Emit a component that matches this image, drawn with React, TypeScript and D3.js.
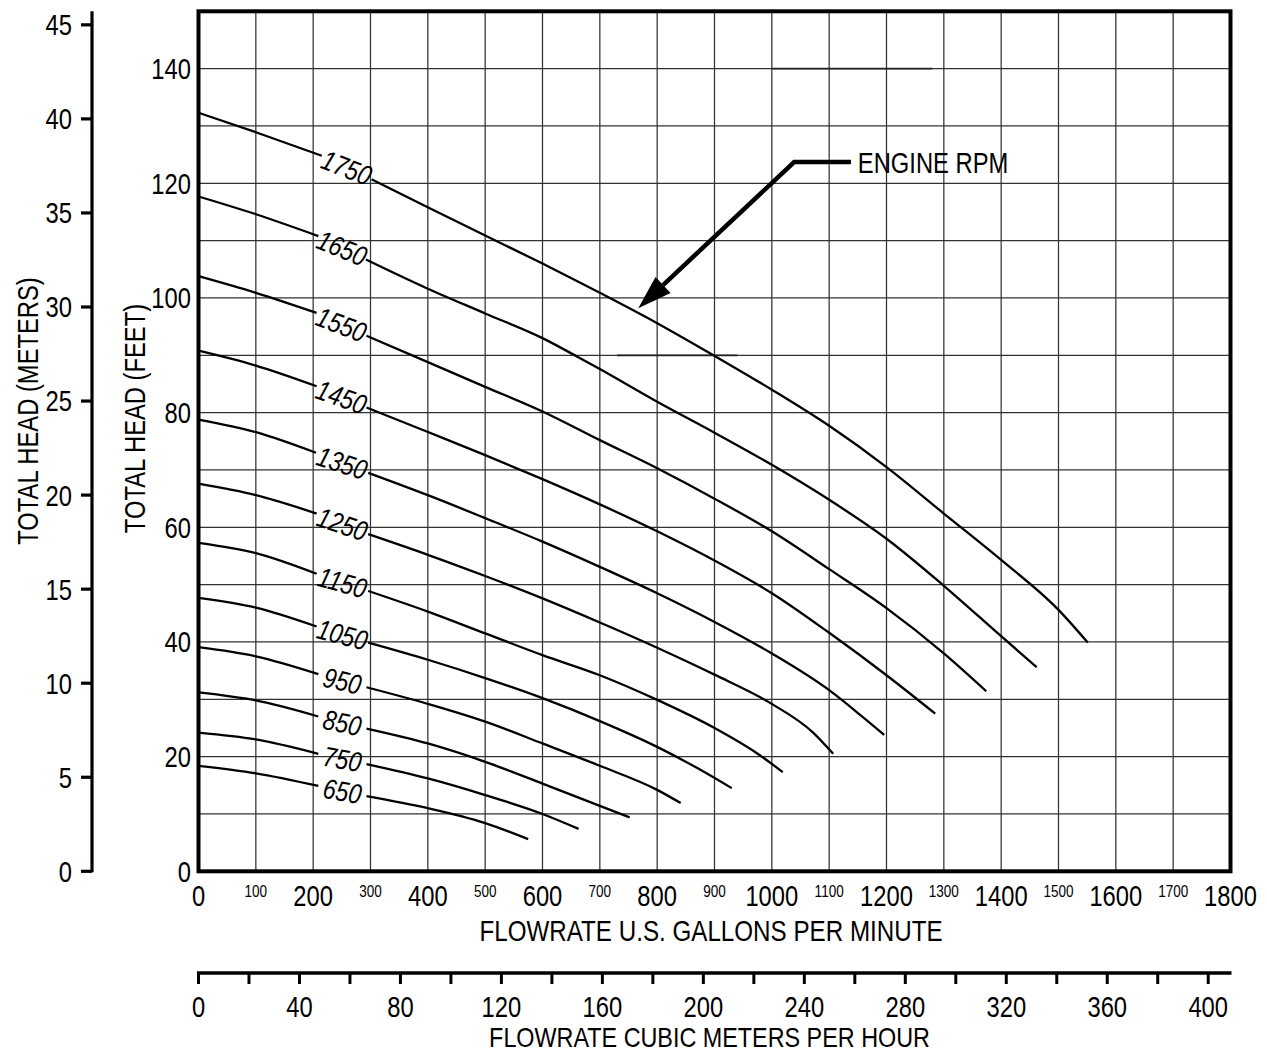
import React from "react";
import * as d3 from "d3";

// ---- data (flow in US GPM, head in feet) ----
const rpmLabels = ["1750", "1650", "1550", "1450", "1350", "1250", "1150", "1050", "950", "850", "750", "650"];

const rpm1750: [number, number][] = [[0,132.3],[100,128.9],[215,124.8],[302,120.7],[398,115.9],[500,110.9],[600,106],[700,100.9],[800,95.6],[900,89.9],[1000,84],[1100,77.7],[1200,70.5],[1300,62.4],[1400,54.3],[1500,45.6],[1551,39.9]];
const rpm1650: [number, number][] = [[0,117.7],[100,114.6],[209,110.8],[292,106.7],[398,101.7],[500,97.3],[600,93],[660,89.8],[700,87.6],[800,81.9],[900,76.5],[1000,70.9],[1100,64.8],[1200,58],[1300,49.8],[1400,41],[1462,35.6]];
const rpm1550: [number, number][] = [[0,103.8],[100,100.9],[206,97.4],[293,93.4],[398,88.9],[500,84.5],[600,80.2],[700,75.2],[800,70.3],[900,65],[1000,59.3],[1100,52.7],[1200,45.9],[1300,38],[1374,31.4]];
const rpm1450: [number, number][] = [[0,90.8],[100,88.2],[206,84.6],[293,80.9],[398,76.7],[500,72.6],[600,68.4],[700,64],[800,59.3],[900,54.2],[1000,48.5],[1100,41.6],[1200,34.2],[1285,27.5]];
const rpm1350: [number, number][] = [[0,78.8],[100,76.6],[205,73],[296,69.5],[400,65.6],[500,61.6],[600,57.5],[700,53.1],[800,48.5],[900,43.5],[1000,38],[1100,31.6],[1154,27.3],[1196,23.8]];
const rpm1250: [number, number][] = [[0,67.6],[100,65.6],[206,62.4],[296,58.8],[400,55.2],[500,51.5],[600,47.6],[700,43.4],[800,39],[900,34.3],[1000,29.2],[1072,24.2],[1107,20.5]];
const rpm1150: [number, number][] = [[0,57.3],[100,55.5],[206,51.9],[296,48.9],[400,45.3],[500,41.5],[600,37.7],[700,34.2],[800,29.9],[900,25],[974,20.6],[1019,17.3]];
const rpm1050: [number, number][] = [[0,47.7],[100,46],[206,42.7],[296,39.9],[400,36.9],[500,33.7],[600,30.2],[700,26.2],[800,21.7],[870,18],[930,14.5]];
const rpm950: [number, number][] = [[0,39.1],[100,37.5],[209,34.4],[293,32.1],[400,29.2],[500,26.1],[600,22.3],[700,18.4],[800,14.2],[841,11.9]];
const rpm850: [number, number][] = [[0,31.2],[100,29.8],[209,27],[293,24.9],[400,22.3],[500,19.1],[600,15.3],[700,11.4],[752,9.4]];
const rpm750: [number, number][] = [[0,24.2],[100,23],[209,20.5],[293,18.7],[400,16.2],[500,13.3],[600,10],[663,7.4]];
const rpm650: [number, number][] = [[0,18.4],[100,17.1],[209,14.9],[293,13.1],[400,11],[500,8.4],[575,5.6]];

const curves = [rpm1750, rpm1650, rpm1550, rpm1450, rpm1350, rpm1250, rpm1150, rpm1050, rpm950, rpm850, rpm750, rpm650];

const gpmMajorTicks = [0, 200, 400, 600, 800, 1000, 1200, 1400, 1600, 1800];
const gpmMinorTicks = [100, 300, 500, 700, 900, 1100, 1300, 1500, 1700];
const feetTicks = [0, 20, 40, 60, 80, 100, 120, 140];
const meterTicks = [0, 5, 10, 15, 20, 25, 30, 35, 40, 45];
const cubicTicks = d3.range(0, 401, 20);
const cubicLabels = [0, 40, 80, 120, 160, 200, 240, 280, 320, 360, 400];
const gridX = d3.range(100, 1800, 100);
const gridY = d3.range(10, 150, 10);

// arrow annotation (gpm, feet)
const arrowTip: [number, number] = [767, 98.2];
const arrowElbow: [number, number] = [1039, 123.7];
const arrowEnd: [number, number] = [1138, 123.7];
const arrowText: [number, number] = [1150, 121.8];

const FT_PER_M = 3.28084;
const GPM_PER_M3H = 4.402868;

const FONT = "'Liberation Sans', Arial, sans-serif";
const SX = 0.82; // narrow (condensed) face emulation

type TProps = { x: number; y: number; rot?: number; size: number; anchor?: string; italic?: boolean; dy?: string; children: React.ReactNode };
function T({ x, y, rot = 0, size, anchor = "start", italic = false, dy, children }: TProps) {
  return (
    <text
      transform={`translate(${x},${y}) rotate(${rot}) scale(${SX},1)`}
      fontSize={size}
      textAnchor={anchor}
      fontStyle={italic ? "italic" : "normal"}
      dy={dy}
      fill="#000"
    >
      {children}
    </text>
  );
}

export default function App() {
  const W = 1267, H = 1055;
  const x = d3.scaleLinear().domain([0, 1800]).range([198.5, 1230.5]);
  const y = d3.scaleLinear().domain([0, 150]).range([871.3, 11.3]);
  const yM = (m: number) => y(m * FT_PER_M);
  const xC = (c: number) => x(c * GPM_PER_M3H);

  const line = d3.line<[number, number]>().x(d => x(d[0])).y(d => y(d[1])).curve(d3.curveMonotoneX);

  // arrow head geometry
  const tipX = x(arrowTip[0]), tipY = y(arrowTip[1]);
  const elX = x(arrowElbow[0]), elY = y(arrowElbow[1]);
  const ang = Math.atan2(elY - tipY, elX - tipX);
  const headLen = 34, headHalf = 11;
  const bx = tipX + Math.cos(ang) * headLen, by = tipY + Math.sin(ang) * headLen;
  const px = -Math.sin(ang), py = Math.cos(ang);
  const head = `M${tipX},${tipY}L${bx + px * headHalf},${by + py * headHalf}L${bx - px * headHalf},${by - py * headHalf}Z`;

  return (
    <svg width={W} height={H} viewBox={`0 0 ${W} ${H}`} style={{ position: "absolute", left: 0, top: 0, background: "#fff" }} fontFamily={FONT}>
      <rect x={0} y={0} width={W} height={H} fill="#fff" />
      {/* grid */}
      <g stroke="#333" strokeWidth={1.25}>
        {gridX.map(g => <line key={"gx" + g} x1={x(g)} x2={x(g)} y1={y(0)} y2={y(150)} />)}
        {gridY.map(g => <line key={"gy" + g} x1={x(0)} x2={x(1800)} y1={y(g)} y2={y(g)} />)}
      </g>
      <g stroke="#222" strokeWidth={1.8}>
        <line x1={x(1000)} x2={x(1280)} y1={y(140)} y2={y(140)} />
        <line x1={x(730)} x2={x(940)} y1={y(90)} y2={y(90)} />
      </g>
      {/* curves */}
      <g fill="none" stroke="#000" strokeWidth={2.3}>
        {curves.map((c, i) => (
          <g key={"c" + i}>
            <path d={line(c.slice(0, 3)) || ""} />
            <path d={line(c.slice(3)) || ""} />
          </g>
        ))}
      </g>
      {/* curve labels */}
      {curves.map((c, i) => {
        const x1 = x(c[2][0]), y1 = y(c[2][1]), x2 = x(c[3][0]), y2 = y(c[3][1]);
        const a = ((Math.atan2(y2 - y1, x2 - x1) * 180) / Math.PI) * 0.85;
        const cx = (x1 + x2) / 2, cy = (y1 + y2) / 2;
        return (
          <T key={"l" + i} x={cx} y={cy} rot={a} size={28} anchor="middle" italic dy="0.36em">
            {rpmLabels[i]}
          </T>
        );
      })}
      {/* plot frame */}
      <rect x={x(0)} y={y(150)} width={x(1800) - x(0)} height={y(0) - y(150)} fill="none" stroke="#000" strokeWidth={4} />

      {/* feet axis labels */}
      {feetTicks.map(t => <T key={"f" + t} x={191} y={y(t)} size={29} anchor="end" dy="0.36em">{t}</T>)}
      <T x={145} y={418.5} rot={-90} size={29} anchor="middle">TOTAL HEAD (FEET)</T>

      {/* meters axis */}
      <line x1={92} x2={92} y1={yM(0) + 1} y2={y(150)} stroke="#000" strokeWidth={3.2} />
      <g stroke="#000" strokeWidth={3.2}>
        {meterTicks.map(t => <line key={"mt" + t} x1={81} x2={92} y1={yM(t)} y2={yM(t)} />)}
      </g>
      {meterTicks.map(t => <T key={"m" + t} x={72} y={yM(t)} size={29} anchor="end" dy="0.36em">{t}</T>)}
      <T x={37.5} y={411} rot={-90} size={29} anchor="middle">TOTAL HEAD (METERS)</T>

      {/* gpm axis labels */}
      {gpmMajorTicks.map(t => <T key={"gm" + t} x={x(t)} y={906} size={29} anchor="middle">{t}</T>)}
      {gpmMinorTicks.map(t => <T key={"gn" + t} x={x(t)} y={897} size={16.5} anchor="middle">{t}</T>)}
      <T x={711} y={941} size={29.5} anchor="middle">FLOWRATE U.S. GALLONS PER MINUTE</T>

      {/* cubic meters axis */}
      <line x1={x(0) - 1.5} x2={x(1800) + 1} y1={973} y2={973} stroke="#000" strokeWidth={3.5} />
      <g stroke="#000" strokeWidth={3}>
        {cubicTicks.map(t => <line key={"ct" + t} x1={xC(t)} x2={xC(t)} y1={973} y2={984} />)}
      </g>
      {cubicLabels.map(t => <T key={"cl" + t} x={xC(t)} y={1017} size={29} anchor="middle">{t}</T>)}
      <T x={709.5} y={1047} size={28.5} anchor="middle">FLOWRATE CUBIC METERS PER HOUR</T>

      {/* annotation */}
      <path d={`M${x(arrowEnd[0])},${y(arrowEnd[1])}L${elX},${elY}L${bx},${by}`} fill="none" stroke="#000" strokeWidth={4.5} strokeLinejoin="miter" />
      <path d={head} fill="#000" />
      <T x={x(arrowText[0])} y={y(arrowText[1])} size={29}>ENGINE RPM</T>
    </svg>
  );
}
